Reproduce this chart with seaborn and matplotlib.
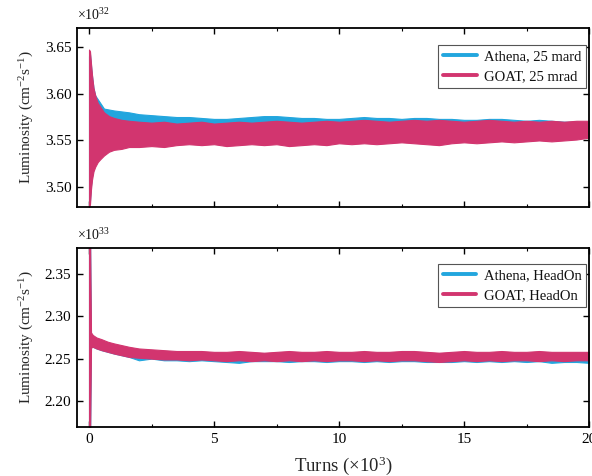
import matplotlib
matplotlib.use("Agg")
import matplotlib.pyplot as plt
from matplotlib.lines import Line2D
from matplotlib.ticker import MultipleLocator
import numpy as np
import pandas as pd
import seaborn as sns

# ---------------- data ----------------
series_names_top = ["Athena, 25 mard", "GOAT, 25 mrad"]
series_names_bot = ["Athena, HeadOn", "GOAT, HeadOn"]
colors = ["#22a6de", "#d2356f"]

turns_top = [0.0, 0.04, 0.08, 0.12, 0.18, 0.25, 0.35, 0.45, 0.6, 0.8, 1.0, 1.3, 1.6, 2.0,
             2.5, 3.0, 3.5, 4.0, 4.5, 5.0, 5.5, 6.0, 6.5, 7.0, 7.5, 8.0, 8.5, 9.0, 9.5, 10.0,
             10.5, 11.0, 11.5, 12.0, 12.5, 13.0, 13.5, 14.0, 14.5, 15.0, 15.5, 16.0, 16.5,
             17.0, 17.5, 18.0, 18.5, 19.0, 19.5, 20.0]

athena_25_lo = [3.482, 3.486, 3.502, 3.512, 3.520, 3.525, 3.530, 3.533, 3.537, 3.540, 3.542, 3.543, 3.545, 3.545,
                3.546, 3.545, 3.547, 3.548, 3.547, 3.548, 3.546, 3.547, 3.548, 3.547,
                3.548, 3.546, 3.547, 3.548, 3.547, 3.549, 3.548, 3.549, 3.548, 3.549,
                3.550, 3.549, 3.548, 3.547, 3.549, 3.550, 3.549, 3.550, 3.551, 3.550,
                3.551, 3.552, 3.551, 3.552, 3.553, 3.555]
athena_25_hi = [3.640, 3.642, 3.630, 3.619, 3.606, 3.598, 3.594, 3.590, 3.584, 3.583, 3.582, 3.581, 3.580, 3.578,
                3.577, 3.576, 3.575, 3.575, 3.574, 3.573, 3.573, 3.574, 3.575, 3.576,
                3.576, 3.575, 3.574, 3.574, 3.573, 3.573, 3.574, 3.575, 3.574, 3.574,
                3.573, 3.574, 3.574, 3.573, 3.573, 3.572, 3.572, 3.573, 3.573, 3.572,
                3.571, 3.572, 3.571, 3.570, 3.570, 3.569]
goat_25_lo = [3.479, 3.482, 3.498, 3.508, 3.517, 3.522, 3.527, 3.530, 3.534, 3.538, 3.540, 3.541, 3.543, 3.543,
              3.544, 3.543, 3.545, 3.546, 3.545, 3.546, 3.544, 3.545, 3.546, 3.545,
              3.546, 3.544, 3.545, 3.546, 3.545, 3.547, 3.546, 3.547, 3.546, 3.547,
              3.548, 3.547, 3.546, 3.545, 3.547, 3.548, 3.547, 3.548, 3.549, 3.548,
              3.549, 3.550, 3.549, 3.550, 3.551, 3.553]
goat_25_hi = [3.647, 3.645, 3.632, 3.620, 3.606, 3.598, 3.590, 3.586, 3.580, 3.576, 3.574, 3.572, 3.571, 3.570,
              3.569, 3.570, 3.568, 3.569, 3.570, 3.568, 3.569, 3.570, 3.569, 3.570,
              3.571, 3.570, 3.569, 3.570, 3.571, 3.570, 3.571, 3.572, 3.571, 3.570,
              3.571, 3.572, 3.571, 3.572, 3.571, 3.570, 3.571, 3.572, 3.571, 3.570,
              3.571, 3.570, 3.571, 3.570, 3.571, 3.571]

turns_bot = [0.0, 0.04, 0.08, 0.15, 0.3, 0.5, 0.75, 1.0, 1.3, 1.6,
             2.0, 2.5, 3.0, 3.5, 4.0, 4.5, 5.0, 5.5, 6.0, 6.5, 7.0, 7.5, 8.0, 8.5, 9.0, 9.5,
             10.0, 10.5, 11.0, 11.5, 12.0, 12.5, 13.0, 13.5, 14.0, 14.5, 15.0, 15.5, 16.0,
             16.5, 17.0, 17.5, 18.0, 18.5, 19.0, 19.5, 20.0]

athena_ho_lo = [2.150, 2.150, 2.264, 2.264, 2.262, 2.260, 2.258, 2.256, 2.254, 2.252,
                2.248, 2.250, 2.248, 2.248, 2.247, 2.248, 2.247, 2.246, 2.245, 2.247,
                2.247, 2.247, 2.246, 2.247, 2.247, 2.246, 2.247, 2.247, 2.246, 2.247,
                2.246, 2.247, 2.247, 2.246, 2.246, 2.246, 2.247, 2.246, 2.247, 2.246,
                2.247, 2.246, 2.247, 2.245, 2.246, 2.246, 2.245]
athena_ho_hi = [2.400, 2.400, 2.278, 2.276, 2.273, 2.271, 2.268, 2.266, 2.264, 2.262,
                2.260, 2.259, 2.258, 2.258, 2.257, 2.257, 2.257, 2.256, 2.257, 2.257,
                2.256, 2.257, 2.257, 2.256, 2.257, 2.257, 2.257, 2.256, 2.258, 2.257,
                2.257, 2.257, 2.258, 2.257, 2.256, 2.257, 2.257, 2.257, 2.256, 2.257,
                2.257, 2.256, 2.257, 2.257, 2.256, 2.257, 2.257]
goat_ho_lo = [2.150, 2.150, 2.263, 2.264, 2.262, 2.260, 2.258, 2.256, 2.254, 2.252,
              2.251, 2.250, 2.249, 2.249, 2.248, 2.249, 2.248, 2.247, 2.248, 2.247,
              2.248, 2.247, 2.248, 2.247, 2.248, 2.247, 2.248, 2.248, 2.247, 2.248,
              2.247, 2.248, 2.248, 2.247, 2.246, 2.247, 2.248, 2.247, 2.248, 2.247,
              2.248, 2.248, 2.247, 2.248, 2.247, 2.248, 2.248]
goat_ho_hi = [2.400, 2.400, 2.281, 2.278, 2.275, 2.273, 2.270, 2.268, 2.266, 2.264,
              2.262, 2.261, 2.260, 2.259, 2.259, 2.259, 2.258, 2.258, 2.259, 2.258,
              2.257, 2.258, 2.259, 2.258, 2.258, 2.259, 2.258, 2.258, 2.259, 2.258,
              2.258, 2.259, 2.259, 2.258, 2.257, 2.258, 2.259, 2.258, 2.258, 2.259,
              2.258, 2.258, 2.259, 2.258, 2.258, 2.258, 2.258]

top_ticks = [3.50, 3.55, 3.60, 3.65]
bot_ticks = [2.20, 2.25, 2.30, 2.35]
x_ticks = [0, 5, 10, 15, 20]


def band_frame(x, lo, hi, name):
    n = min(len(x), len(lo), len(hi))
    return pd.DataFrame({
        "turns": list(x[:n]) + list(x[:n]),
        "lum": list(lo[:n]) + list(hi[:n]),
        "series": [name] * (2 * n),
    })


df_top = pd.concat([band_frame(turns_top, athena_25_lo, athena_25_hi, series_names_top[0]),
                    band_frame(turns_top, goat_25_lo, goat_25_hi, series_names_top[1])])
df_bot = pd.concat([band_frame(turns_bot, athena_ho_lo, athena_ho_hi, series_names_bot[0]),
                    band_frame(turns_bot, goat_ho_lo, goat_ho_hi, series_names_bot[1])])

# ---------------- style ----------------
sns.set_style("ticks")
plt.rcParams["font.family"] = ["Liberation Serif", "DejaVu Serif"]
plt.rcParams["mathtext.fontset"] = "custom"
plt.rcParams["mathtext.rm"] = "Liberation Serif"
plt.rcParams["mathtext.it"] = "Liberation Serif:italic"
plt.rcParams["mathtext.bf"] = "Liberation Serif:bold"
plt.rcParams["axes.edgecolor"] = "black"
plt.rcParams["xtick.color"] = "black"
plt.rcParams["ytick.color"] = "black"
plt.rcParams["text.color"] = "#111111"

FS = 10.5
TFS = 11

fig = plt.figure(figsize=(5.92, 4.76), dpi=100)
W, H = 592.0, 476.0
x0, x1 = 77, 589
ax1 = fig.add_axes([x0 / W, 1 - 207 / H, (x1 - x0) / W, (207 - 28) / H])
ax2 = fig.add_axes([x0 / W, 1 - 427 / H, (x1 - x0) / W, (427 - 248) / H])

for ax, df, names, ylim, yt, exp, leg_y in [
    (ax1, df_top, series_names_top, (3.479, 3.670), top_ticks, "32", 0.905),
    (ax2, df_bot, series_names_bot, (2.169, 2.381), bot_ticks, "33", 0.91),
]:
    sns.lineplot(data=df, x="turns", y="lum", hue="series", hue_order=names,
                 palette=colors, estimator="mean", errorbar=("pi", 100),
                 err_kws={"alpha": 1.0, "linewidth": 0.8}, linewidth=0,
                 legend=False, ax=ax)
    ax.set_xlim(-0.48, 20.0)
    ax.set_ylim(*ylim)
    ax.set_yticks(yt)
    ax.set_yticklabels([f"{v:.2f}" for v in yt], fontsize=TFS)
    ax.set_xticks(x_ticks)
    ax.xaxis.set_minor_locator(MultipleLocator(2.5))
    ax.tick_params(axis="both", which="both", direction="in", top=True, right=True)
    ax.tick_params(axis="both", which="major", length=4, width=1.0, pad=4)
    ax.tick_params(axis="both", which="minor", length=2, width=0.8)
    for sp in ax.spines.values():
        sp.set_linewidth(1.3)
        sp.set_color("black")
    ax.set_ylabel(r"Luminosity (cm$^{-2}$s$^{-1}$)", fontsize=11)
    ax.yaxis.set_label_coords(-0.08, 0.5)
    ax.text(0.0, 1.07, r"×10$^{" + exp + "}$", transform=ax.transAxes,
            ha="left", va="center", fontsize=10)
    handles = [Line2D([0], [0], color=c, lw=2.8) for c in colors]
    leg = ax.legend(handles, names, loc="upper right",
                    bbox_to_anchor=(0.995, leg_y),
                    fancybox=False, framealpha=1, edgecolor="#555555",
                    fontsize=FS, handlelength=2.3, handletextpad=0.5,
                    borderpad=0.35, labelspacing=0.45, borderaxespad=0.0)
    leg.get_frame().set_linewidth(0.8)

ax1.set_xlabel("")
ax1.set_xticklabels([])
ax2.set_xticklabels([str(v) for v in x_ticks], fontsize=TFS)
ax2.set_xlabel(r"Turns (×10$^{3}$)", fontsize=13.5)
ax2.xaxis.set_label_coords(0.52, -0.155)

fig.savefig("out.png", dpi=100)
